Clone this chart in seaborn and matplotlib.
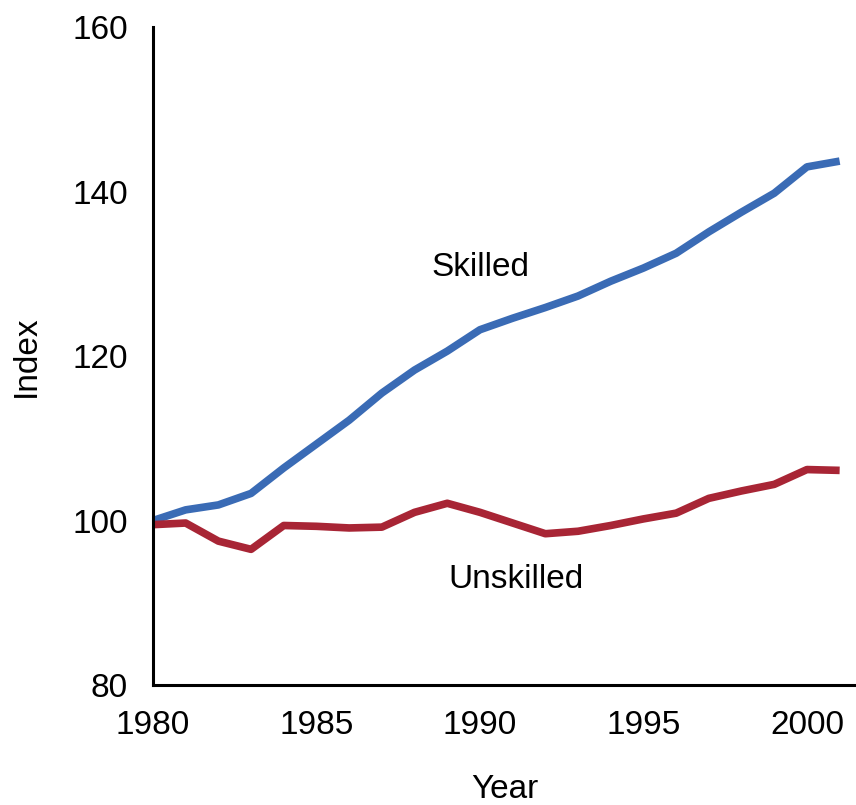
import numpy as np
import pandas as pd
import matplotlib
matplotlib.use("Agg")
import matplotlib.pyplot as plt
import seaborn as sns

# values
years = list(range(1980, 2002))
skilled = [100.0, 101.3, 101.9, 103.3, 106.4, 109.3, 112.2, 115.5, 118.3, 120.6, 123.2,
           124.6, 125.9, 127.3, 129.1, 130.7, 132.5, 135.1, 137.5, 139.8, 143.0, 143.7]
unskilled = [99.5, 99.7, 97.5, 96.5, 99.4, 99.3, 99.1, 99.2, 101.0, 102.1, 101.0,
             99.7, 98.4, 98.7, 99.4, 100.2, 100.9, 102.7, 103.6, 104.4, 106.2, 106.1]
series = ["Skilled", "Unskilled"]
colors = ["#3a6bb5", "#a82535"]
y_ticks = [80, 100, 120, 140, 160]
x_ticks = [1980, 1985, 1990, 1995, 2000]

df = pd.DataFrame({
    "Year": years * 2,
    "Index": skilled + unskilled,
    "Group": ["Skilled"] * len(years) + ["Unskilled"] * len(years),
})

sns.set_style("white")
plt.rcParams["font.family"] = ["Liberation Sans", "DejaVu Sans"]
plt.rcParams["text.color"] = "black"
plt.rcParams["axes.labelcolor"] = "black"
plt.rcParams["xtick.color"] = "black"
plt.rcParams["ytick.color"] = "black"

fig = plt.figure(figsize=(8.56, 8.05), dpi=100)
ax = fig.add_axes([0.1787, 0.149, 0.8213, 0.8174])

sns.lineplot(data=df, x="Year", y="Index", hue="Group", palette=dict(zip(series, colors)),
             linewidth=5.5, legend=False, ax=ax)
for line in ax.lines:
    line.set_solid_joinstyle("round")
    line.set_solid_capstyle("butt")

ax.set_xlim(1980, 2001.5)
ax.set_ylim(80, 160)
ax.set_xticks(x_ticks)
ax.set_yticks(y_ticks)
ax.tick_params(axis="both", labelsize=24, length=10, width=2.2, direction="out",
               colors="black", pad=8)
for s in ["top", "right"]:
    ax.spines[s].set_visible(False)
for s in ["left", "bottom"]:
    ax.spines[s].set_linewidth(2.2)
    ax.spines[s].set_color("black")

ax.set_xlabel("Year", fontsize=24, labelpad=24)
ax.set_ylabel("Index", fontsize=24, labelpad=22)

ax.text(1990.0, 130.8, "Skilled", fontsize=24, ha="center", va="center")
ax.text(1991.1, 92.8, "Unskilled", fontsize=24, ha="center", va="center")

fig.savefig("out.png", dpi=100)
